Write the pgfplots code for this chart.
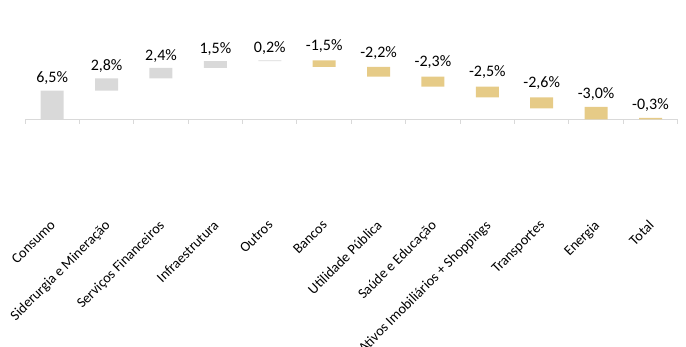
\documentclass[border=0pt]{standalone}
\usepackage{pgfplots}
\usepackage{pgfplotstable}
\pgfplotsset{compat=1.18}
\usepackage{fontspec}
\setmainfont{Carlito}
\definecolor{grayb}{HTML}{D9D9D9}
\definecolor{goldb}{HTML}{E6CB87}
\definecolor{axisg}{HTML}{D9D9D9}
\pgfplotstableread{
x base gray gold
0 0 6.5 0
1 6.5 2.8 0
2 9.3 2.4 0
3 11.7 1.5 0
4 13.2 0.2 0
5 11.9 0 1.5
6 9.7 0 2.2
7 7.4 0 2.3
8 5.0 0 2.4
9 2.5 0 2.5
10 -0.3 0 2.8
11 -0.3 0 0.3
}\datatable
\pgfplotstableread{
x top lab
0 6.5 6,5\%
1 9.3 2,8\%
2 11.7 2,4\%
3 13.2 1,5\%
4 13.4 0,2\%
}\poslabels
\pgfplotstableread{
x top lab
5 13.4 -1,5\%
6 11.9 -2,2\%
7 9.7 -2,3\%
8 7.4 -2,5\%
9 5.0 -2,6\%
10 2.5 -3,0\%
11 0 -0,3\%
}\neglabels
\pgfplotsset{common/.style={
  at={(25pt,128pt)}, anchor=south west,
  scale only axis,
  width=652.7pt, height=187.7pt,
  xmin=-0.5, xmax=11.5,
  ymin=-22.66, ymax=20,
  axis line style={draw=none},
  ytick=\empty,
  major tick length=0pt,
  clip=false,
}}
\begin{document}
\begin{tikzpicture}
\useasboundingbox (0,0) rectangle (686pt,347pt);
\clip (0,0) rectangle (686pt,347pt);
\begin{axis}[common,
  ybar stacked, bar width=23pt,
  xtick={0,...,11},
  xticklabels={Consumo, Siderurgia e Mineração, Serviços Financeiros, Infraestrutura, Outros, Bancos, Utilidade Pública, Saúde e Educação, Ativos Imobiliários + Shoppings, Transportes, Energia, Total},
  xticklabel style={rotate=45, anchor=north east, inner sep=0pt, xshift=-2pt, yshift=2pt, font=\fontsize{14.3}{17}\selectfont, text=black},
]
\addplot[draw=none, fill=none] table[x=x, y=base] {\datatable};
\addplot[draw=none, fill=grayb] table[x=x, y=gray] {\datatable};
\addplot[draw=none, fill=goldb] table[x=x, y=gold] {\datatable};
\draw[axisg, line width=1pt] (axis cs:-0.5,0) -- (axis cs:11.5,0);
\pgfplotsinvokeforeach{-0.5,0.5,1.5,2.5,3.5,4.5,5.5,6.5,7.5,8.5,9.5,10.5,11.5}{
  \draw[axisg, line width=1pt] (axis cs:#1,0) -- (axis cs:#1,-1.14);
}
\end{axis}
\begin{axis}[common, xtick=\empty]
\addplot[draw=none, mark=none,
  point meta=explicit symbolic,
  nodes near coords={\pgfplotspointmeta},
  every node near coord/.style={font=\fontsize{16}{19}\selectfont, text=black, inner sep=0pt, anchor=south, yshift=5.5pt},
] table[x=x, y=top, meta=lab] {\poslabels};
\addplot[draw=none, mark=none,
  point meta=explicit symbolic,
  nodes near coords={\pgfplotspointmeta},
  every node near coord/.style={font=\fontsize{16}{19}\selectfont, text=black, inner sep=0pt, anchor=south, yshift=7.5pt},
] table[x=x, y=top, meta=lab] {\neglabels};
\end{axis}
\end{tikzpicture}
\end{document}
